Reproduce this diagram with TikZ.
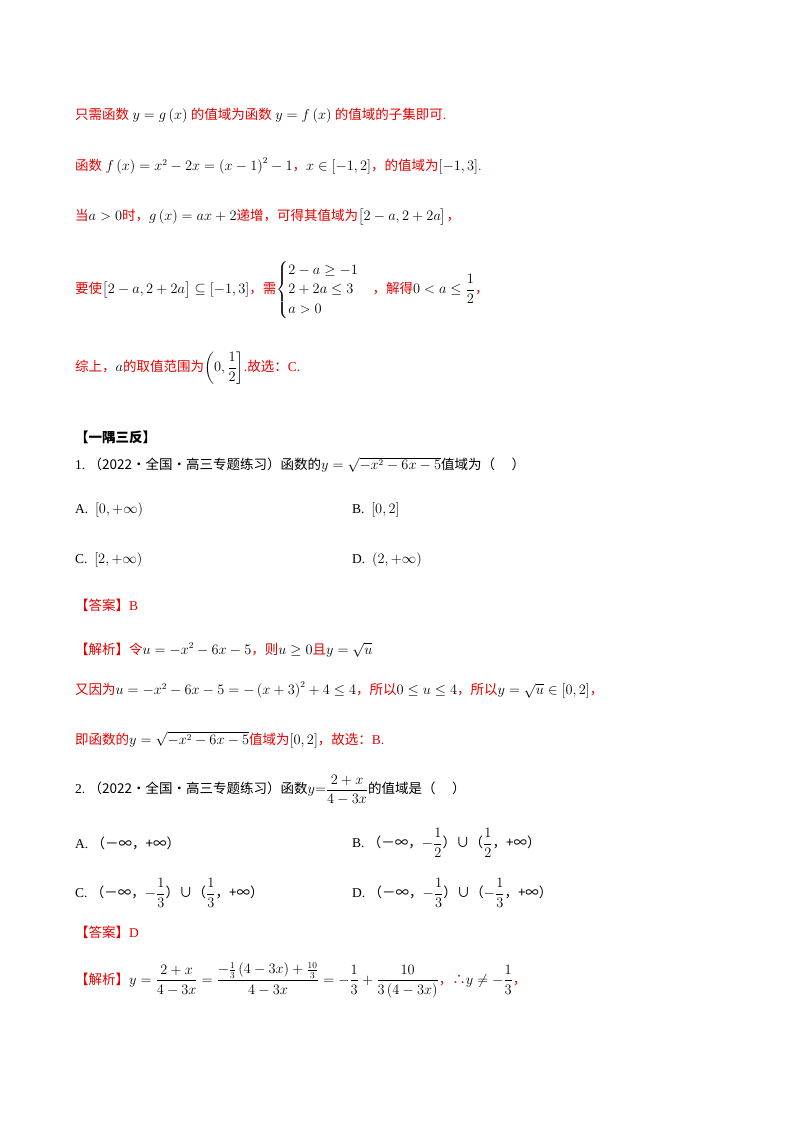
\documentclass[tikz,border=0pt]{standalone}
\usepackage{amsmath,amssymb}
\usepackage{fontspec}
\setmainfont{Liberation Serif}
\newfontfamily\cjk{Noto Sans CJK SC}
\newcommand{\zh}[1]{{\cjk #1}}
\definecolor{ansred}{RGB}{230,0,0}
\begin{document}
\begin{tikzpicture}[x=1pt,y=-1pt,
  ln/.style={anchor=west,inner sep=0pt,font=\fontsize{13.5}{16}\selectfont},
  rl/.style={ln,text=ansred}]
\useasboundingbox (0,0) rectangle (800,1132);
\node[rl] (l1) at (75,116) {\zh{只需函数} \textcolor{black}{$y=g\left(x\right)$} \zh{的值域为函数} \textcolor{black}{$y=f\left(x\right)$} \zh{的值域的子集即可}.};
\node[rl] (l2) at (75,166) {\zh{函数} \textcolor{black}{$f\left(x\right)=x^2-2x=\left(x-1\right)^2-1$}\zh{，}\textcolor{black}{$x\in\left[-1,2\right]$}\zh{，的值域为}\textcolor{black}{$\left[-1,3\right]$}.};
\node[rl] (l3) at (75,217) {\zh{当}\textcolor{black}{$a>0$}\zh{时，}\textcolor{black}{$g\left(x\right)=ax+2$}\zh{递增，可得其值域为}\textcolor{black}{$\big[2-a,2+2a\big]$}\zh{，}};
\node[rl] (l4) at (75,290) {\zh{要使}\textcolor{black}{$\big[2-a,2+2a\big]\subseteq\left[-1,3\right]$}\zh{，需}\textcolor{black}{$\begin{cases}2-a\ge-1\\2+2a\le3\\a>0\end{cases}$}\zh{，解得}\textcolor{black}{$0<a\le\dfrac12$}\zh{，}};
\node[rl] (l5) at (75,368) {\zh{综上，}\textcolor{black}{$a$}\zh{的取值范围为}\textcolor{black}{$\left(0,\dfrac12\right]$}.\zh{故选：}C.};
\node[ln] (h) at (75,437) {\zh{\bfseries 【一隅三反】}};
\node[ln] (q1) at (75,465) {1.\ \zh{（2022·全国·高三专题练习）函数的}$y=\sqrt{-x^2-6x-5}$\zh{值域为（\quad\ ）}};
\node[ln] (a1) at (75,510) {A.\ \ $\left[0,+\infty\right)$};
\node[ln] (b1) at (352,510) {B.\ \ $\left[0,2\right]$};
\node[ln] (c1) at (75,560) {C.\ \ $\left[2,+\infty\right)$};
\node[ln] (d1) at (352,560) {D.\ \ $\left(2,+\infty\right)$};
\node[rl] (ans1) at (75,605) {\zh{【答案】}B};
\node[rl] (s1) at (75,650) {\zh{【解析】令}\textcolor{black}{$u=-x^2-6x-5$}\zh{，则}\textcolor{black}{$u\ge0$}\zh{且}\textcolor{black}{$y=\sqrt{u}$}};
\node[rl] (s2) at (75,690) {\zh{又因为}\textcolor{black}{$u=-x^2-6x-5=-\left(x+3\right)^2+4\le4$}\zh{，所以}\textcolor{black}{$0\le u\le4$}\zh{，所以}\textcolor{black}{$y=\sqrt{u}\in\left[0,2\right]$}\zh{，}};
\node[rl] (s3) at (75,740) {\zh{即函数的}\textcolor{black}{$y=\sqrt{-x^2-6x-5}$}\zh{值域为}\textcolor{black}{$\left[0,2\right]$}\zh{，故选：}B.};
\node[ln] (q2) at (75,790) {2.\ \zh{（2022·全国·高三专题练习）函数}$y{=}\dfrac{2+x}{4-3x}$\zh{的值域是（\quad\ ）}};
\node[ln] (a2) at (75,843) {A.\ \zh{（－∞，+∞）}};
\node[ln] (b2) at (352,843) {B.\ \zh{（－∞，}$-\dfrac12$\zh{）∪（}$\dfrac12$\zh{，+∞）}};
\node[ln] (c2) at (75,893) {C.\ \zh{（－∞，}$-\dfrac13$\zh{）∪（}$\dfrac13$\zh{，+∞）}};
\node[ln] (d2) at (352,893) {D.\ \zh{（－∞，}$-\dfrac13$\zh{）∪（}$-\dfrac13$\zh{，+∞）}};
\node[rl] (ans2) at (75,932) {\zh{【答案】}D};
\node[rl] (s4) at (75,980) {\zh{【解析】}\textcolor{black}{$y=\dfrac{2+x}{4-3x}=\dfrac{-\frac13\left(4-3x\right)+\frac{10}{3}}{4-3x}=-\dfrac13+\dfrac{10}{3\left(4-3x\right)}$}\zh{，∴}\textcolor{black}{$y\ne-\dfrac13$}\zh{，}};
\end{tikzpicture}
\end{document}
